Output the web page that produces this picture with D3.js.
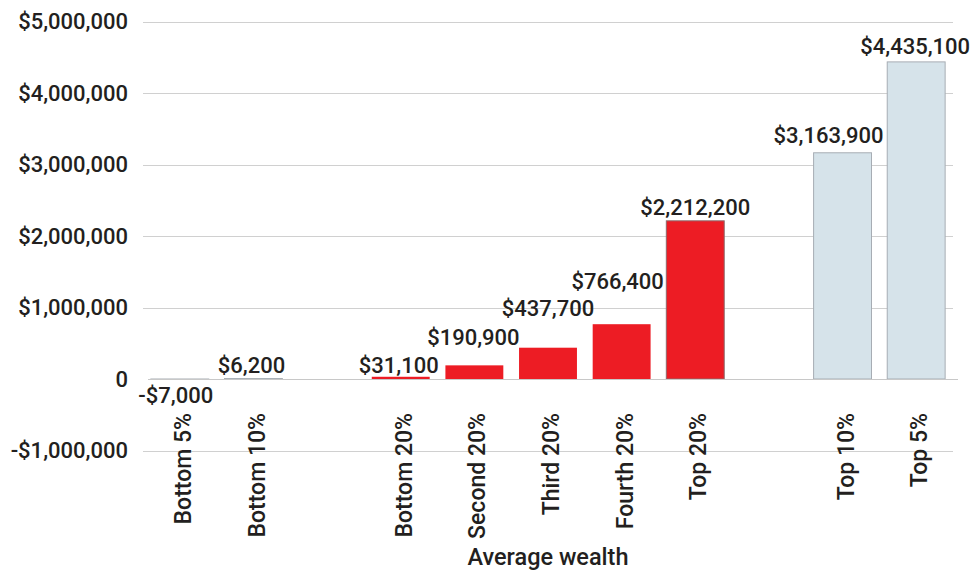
<!DOCTYPE html>
<html>
<head>
<meta charset="utf-8">
<script src="https://cdn.jsdelivr.net/npm/d3@7"></script>
<style>
  html, body { margin: 0; padding: 0; background: #fff; }
  svg { display: block; font-family: Roboto, "Noto Sans", sans-serif; }
</style>
</head>
<body>
<svg id="chart" width="975" height="572"></svg>
<script>
// ---- data ----
const slots = ["Bottom 5%", "Bottom 10%", "gap1", "Bottom 20%", "Second 20%", "Third 20%", "Fourth 20%", "Top 20%", "gap2", "Top 10%", "Top 5%"];
const categories = ["Bottom 5%", "Bottom 10%", "Bottom 20%", "Second 20%", "Third 20%", "Fourth 20%", "Top 20%", "Top 10%", "Top 5%"];
const values = [-7000, 6200, 31100, 190900, 437700, 766400, 2212200, 3163900, 4435100];
const groups = ["tail", "tail", "quintile", "quintile", "quintile", "quintile", "quintile", "tail", "tail"];
const yTicks = [-1000000, 0, 1000000, 2000000, 3000000, 4000000, 5000000];
const axisTitle = "Average wealth";

// label nudges (layout only): [dx, dy] in px relative to bar end
const labelNudge = [[-4, 23], [-2, -6], [-2, -4], [-1, -20], [0, -32], [-4, -35], [0, -6], [-14, -10], [-1, -8]];

// ---- layout ----
const svg = d3.select("#chart");
const ink = "#231f20";
const x = d3.scaleBand().domain(slots).range([143, 953]).paddingInner(0.2).paddingOuter(0.1);
const y = d3.scaleLinear().domain([-1000000, 5000000]).range([450.5, 21.5]);

const fmtMoney = v => {
  if (v === 0) return "0";
  const s = d3.format(",")(Math.abs(v));
  return (v < 0 ? "-$" : "$") + s;
};

// gridlines
svg.append("g").selectAll("line")
  .data(yTicks.filter(t => t !== 0))
  .join("line")
  .attr("x1", 143).attr("x2", 953)
  .attr("y1", d => Math.round(y(d)) + 0.5).attr("y2", d => Math.round(y(d)) + 0.5)
  .attr("stroke", "#d0d0d0").attr("stroke-width", 1);

// y axis labels
const yAxis = d3.axisLeft(y).tickValues(yTicks).tickFormat(fmtMoney).tickSize(0).tickPadding(0);
const gy = svg.append("g").attr("transform", "translate(128,0)").call(yAxis);
gy.select(".domain").remove();
gy.selectAll("text").attr("fill", ink).attr("font-size", 22).attr("font-weight", 500)
  .attr("font-family", "Roboto, sans-serif");

// bars
const fillFor = g => g === "quintile" ? "#ed1c24" : "#d6e3ea";
const strokeFor = (g, c) => g === "quintile" ? (c === "Top 20%" ? "#8e6a6c" : "none") : "#a7adb4";
const data = categories.map((c, i) => ({ c, v: values[i], g: groups[i], i }));

svg.append("g").selectAll("rect")
  .data(data)
  .join("rect")
  .attr("x", d => x(d.c) + 0.5)
  .attr("width", x.bandwidth() - 1)
  .attr("y", d => Math.min(y(d.v), y(0)))
  .attr("height", d => Math.max(0.5, Math.abs(y(d.v) - y(0))))
  .attr("fill", d => fillFor(d.g))
  .attr("stroke", d => strokeFor(d.g, d.c))
  .attr("stroke-width", 1);

// zero line
svg.append("line")
  .attr("x1", 148).attr("x2", 958)
  .attr("y1", Math.round(y(0)) + 0.5).attr("y2", Math.round(y(0)) + 0.5)
  .attr("stroke", "#c8c8c8").attr("stroke-width", 1);

// value labels
svg.append("g").selectAll("text")
  .data(data)
  .join("text")
  .attr("x", d => x(d.c) + x.bandwidth() / 2 + labelNudge[d.i][0])
  .attr("y", d => y(d.v) + labelNudge[d.i][1])
  .attr("text-anchor", "middle")
  .attr("fill", ink)
  .attr("font-size", 22)
  .attr("font-weight", 500)
  .text(d => fmtMoney(d.v));

// x category labels
svg.append("g").selectAll("text")
  .data(categories)
  .join("text")
  .attr("transform", d => `translate(${x(d) + x.bandwidth() / 2 + 3},413) rotate(-90)`)
  .attr("text-anchor", "end")
  .attr("dy", "0.35em")
  .attr("fill", ink)
  .attr("font-size", 23)
  .attr("font-weight", 500)
  .text(d => d);

// axis title
svg.append("text")
  .attr("x", (143 + 953) / 2)
  .attr("y", 565)
  .attr("text-anchor", "middle")
  .attr("fill", ink)
  .attr("font-size", 23.5)
  .attr("font-weight", 500)
  .text(axisTitle);
</script>
</body>
</html>
